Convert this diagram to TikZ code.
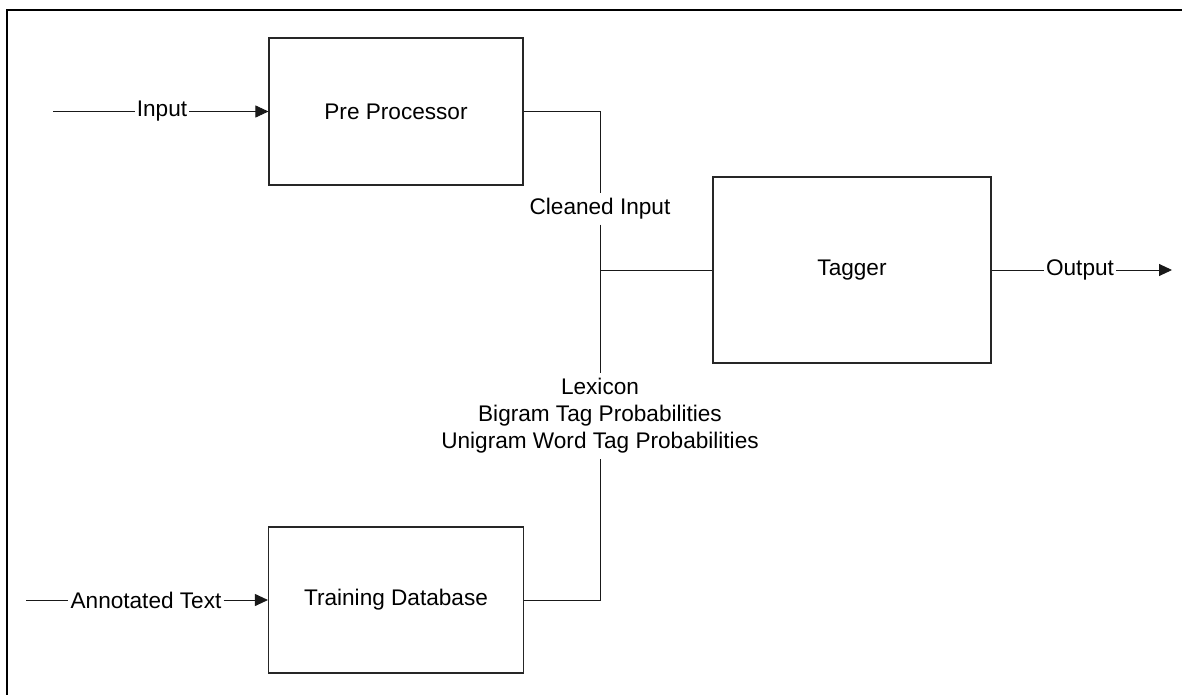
\documentclass[tikz,border=0pt]{standalone}
\usepackage{fontspec}
\setmainfont{Liberation Sans}
\usetikzlibrary{arrows.meta}
\begin{document}
\begin{tikzpicture}[x=1pt,y=-1pt,
  every node/.style={font=\fontsize{22.6}{27}\selectfont},
  blockbox/.style={draw=black!85,line width=1.1pt,inner sep=0pt},
  lbl/.style={inner xsep=2pt,inner ysep=1pt},
  vlbl/.style={inner xsep=2pt,inner ysep=5pt,align=center},
  conn/.style={draw=black!90,line width=0.9pt},
  arr/.style={conn,-{Triangle[length=13pt,width=12pt]}}
]
\useasboundingbox (0,0) rectangle (1182,695);
% frame (top and left edges)
\draw[line width=2.6pt] (1182,10) -- (7,10) -- (7,695);

% blocks
\node[blockbox,minimum width=254pt,minimum height=147pt] (pre) at (396,111.5) {Pre Processor};
\node[blockbox,minimum width=278pt,minimum height=186pt] (tag) at (852,270) {Tagger};
\node[blockbox,minimum width=255pt,minimum height=146pt] (tdb) at (396,600) {Training Database};

% labels
\node[lbl] (inl) at (162,111.5) {Input};
\node[lbl] (anl) at (146,600) {Annotated Text};
\node[lbl] (outl) at (1080,270) {Output};
\node[vlbl] (cln) at (600,209) {Cleaned Input};
\node[vlbl] (lex) at (600,416) {Lexicon\\Bigram Tag Probabilities\\Unigram Word Tag Probabilities};

% free ends
\coordinate (in0) at (53,111.5);
\coordinate (an0) at (26,600);
\coordinate (out1) at (1172,270);
\coordinate (junc) at (600,270);

% input
\draw[conn] (in0) -- (inl.west);
\draw[arr] (inl.east) -- (pre.west);
% annotated text
\draw[conn] (an0) -- (anl.west);
\draw[arr] (anl.east) -- (tdb.west);
% output
\draw[conn] (tag.east) -- (outl.west);
\draw[arr] (outl.east) -- (out1);
% cleaned input
\draw[conn] (pre.east) -| (cln.north);
\draw[conn] (cln.south) -- (junc) -- (tag.west);
% lexicon etc.
\draw[conn] (junc) -- (lex.north);
\draw[conn] (tdb.east) -| (lex.south);
\end{tikzpicture}
\end{document}
